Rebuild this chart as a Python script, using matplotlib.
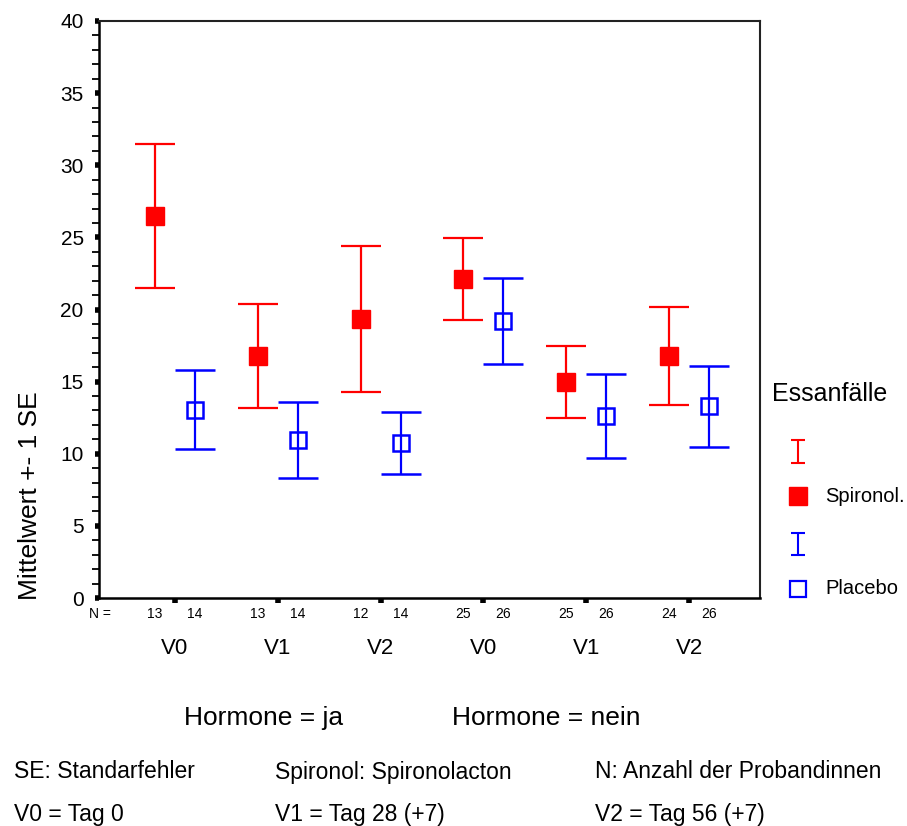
import matplotlib
matplotlib.use('Agg')
import matplotlib.pyplot as plt
import numpy as np
from matplotlib.transforms import blended_transform_factory
from matplotlib.ticker import MultipleLocator

plt.rcParams['font.family'] = ['Liberation Sans', 'DejaVu Sans']

# data
visits = ['V0', 'V1', 'V2', 'V0', 'V1', 'V2']
spiro_mean = [26.5, 16.8, 19.35, 22.1, 15.0, 16.8]
spiro_se = [5.0, 3.6, 5.05, 2.85, 2.5, 3.4]
placebo_mean = [13.05, 10.95, 10.75, 19.2, 12.6, 13.3]
placebo_se = [2.75, 2.65, 2.15, 3.0, 2.9, 2.8]
n_spiro = [13, 13, 12, 25, 25, 24]
n_placebo = [14, 14, 14, 26, 26, 26]
hormone_labels = ['Hormone = ja', 'Hormone = nein']
footnotes = [['SE: Standarfehler', 'Spironol: Spironolacton', 'N: Anzahl der Probandinnen'],
             ['V0 = Tag 0', 'V1 = Tag 28 (+7)', 'V2 = Tag 56 (+7)']]

W, H = 907, 826
fig = plt.figure(figsize=(W / 100, H / 100), dpi=100)
ax = fig.add_axes([99 / W, 1 - 598 / H, (760 - 99) / W, (598 - 21) / H])

x = np.arange(len(visits))
off = 0.195
red = '#ff0000'
blue = '#0000ff'

ax.errorbar(x - off, spiro_mean, yerr=spiro_se, fmt='s', color=red, ecolor=red,
            elinewidth=1.6, capsize=14.5, capthick=1.6, markersize=12.5, zorder=3)
ax.errorbar(x + off, placebo_mean, yerr=placebo_se, fmt='s', color=blue, ecolor=blue,
            mfc='none', mec=blue, mew=1.8, elinewidth=1.6, capsize=14.5, capthick=1.6,
            markersize=11.5, zorder=3)

ax.set_xlim(-0.738, 5.689)
ax.set_ylim(0, 40)
ax.set_xticks(x)
ax.set_xticklabels([])
ax.yaxis.set_major_locator(MultipleLocator(5))
ax.yaxis.set_minor_locator(MultipleLocator(1))
ax.tick_params(axis='y', which='major', direction='out', length=3, width=4, labelsize=15, pad=8)
ax.tick_params(axis='y', which='minor', direction='out', length=5, width=1.3)
ax.tick_params(axis='x', which='major', direction='out', length=3.5, width=4)
for s in ['left', 'bottom']:
    ax.spines[s].set_linewidth(1.8)
for s in ['top', 'right']:
    ax.spines[s].set_linewidth(1.5)
    ax.spines[s].set_color('#222222')

# N and visit labels under the axis
tr = blended_transform_factory(ax.transData, fig.transFigure)
for i in range(len(visits)):
    ax.text(x[i] - off, 1 - 614 / H, str(n_spiro[i]), transform=tr, ha='center', va='center', fontsize=10)
    ax.text(x[i] + off, 1 - 614 / H, str(n_placebo[i]), transform=tr, ha='center', va='center', fontsize=10)
    ax.text(x[i], 1 - 649 / H, visits[i], transform=tr, ha='center', va='center', fontsize=16)
fig.text(100 / W, 1 - 614 / H, 'N =', ha='center', va='center', fontsize=10)

fig.text(30 / W, 1 - 496 / H, 'Mittelwert +- 1 SE', rotation=90, ha='center', va='center', fontsize=19)

fig.text(264 / W, 1 - 718 / H, hormone_labels[0], ha='center', va='center', fontsize=19)
fig.text(546 / W, 1 - 718 / H, hormone_labels[1], ha='center', va='center', fontsize=19)
for r, yy in enumerate([772, 814]):
    for c, xx in enumerate([14, 275, 595]):
        fig.text(xx / W, 1 - yy / H, footnotes[r][c], ha='left', va='center', fontsize=16.5)

# legend
lax = fig.add_axes([0, 0, 1, 1], facecolor='none')
lax.set_xlim(0, W)
lax.set_ylim(H, 0)
lax.axis('off')
fig.text(772 / W, 1 - 394 / H, 'Essanfälle', ha='left', va='center', fontsize=18)
lax.errorbar([798], [451.5], yerr=[11.5], fmt='none', ecolor=red, elinewidth=1.5, capsize=5, capthick=1.5)
lax.plot([798], [496], 's', color=red, markersize=12.5)
fig.text(825 / W, 1 - 496 / H, 'Spironol.', ha='left', va='center', fontsize=14.5)
lax.errorbar([798], [544], yerr=[11], fmt='none', ecolor=blue, elinewidth=1.5, capsize=5, capthick=1.5)
lax.plot([798], [589], 's', mfc='none', mec=blue, mew=1.6, markersize=11)
fig.text(825 / W, 1 - 589 / H, 'Placebo', ha='left', va='center', fontsize=14.5)

fig.savefig('out.png', dpi=100)
